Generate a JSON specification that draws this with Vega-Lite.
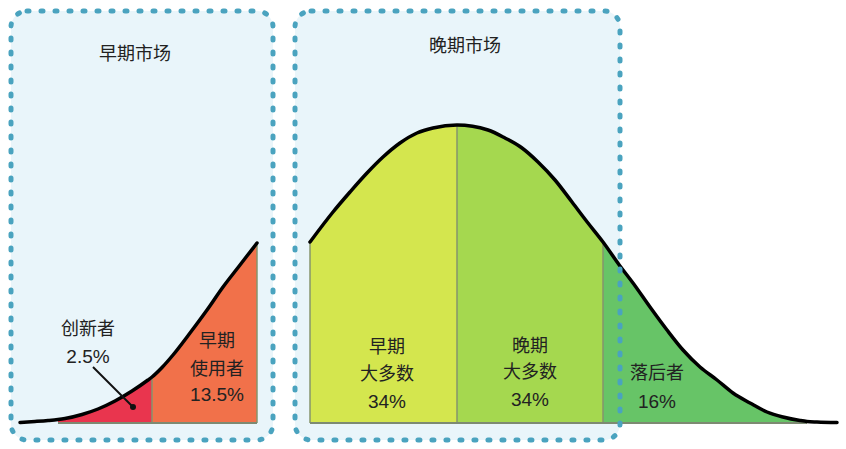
{
  "$schema": "https://vega.github.io/schema/vega-lite/v6.json",
  "autosize": {"type": "fit", "contains": "padding"},
  "width": 846,
  "height": 449,
  "padding": 0,
  "background": "white",
  "config": {"view": {"stroke": null}},
  "datasets": {
    "curve": [
      {"part": "left", "x": 20, "h": 0.5},
      {"part": "left", "x": 35, "h": 1.5},
      {"part": "left", "x": 48, "h": 2.5},
      {"part": "left", "x": 58, "h": 3.5},
      {"part": "left", "x": 65, "h": 4.5},
      {"part": "left", "x": 82, "h": 8.5},
      {"part": "left", "x": 98, "h": 14},
      {"part": "left", "x": 115, "h": 22},
      {"part": "left", "x": 132, "h": 32},
      {"part": "left", "x": 148, "h": 43},
      {"part": "left", "x": 152, "h": 46},
      {"part": "left", "x": 162, "h": 55.5},
      {"part": "left", "x": 173, "h": 68},
      {"part": "left", "x": 190, "h": 90},
      {"part": "left", "x": 207, "h": 113},
      {"part": "left", "x": 223, "h": 136},
      {"part": "left", "x": 240, "h": 158},
      {"part": "left", "x": 257, "h": 180},
      {"part": "right", "x": 310, "h": 181},
      {"part": "right", "x": 333, "h": 211},
      {"part": "right", "x": 350, "h": 231},
      {"part": "right", "x": 367, "h": 250},
      {"part": "right", "x": 383, "h": 266},
      {"part": "right", "x": 400, "h": 280},
      {"part": "right", "x": 417, "h": 290},
      {"part": "right", "x": 433, "h": 295},
      {"part": "right", "x": 457, "h": 298},
      {"part": "right", "x": 488, "h": 293},
      {"part": "right", "x": 505, "h": 285},
      {"part": "right", "x": 522, "h": 275},
      {"part": "right", "x": 538, "h": 261},
      {"part": "right", "x": 555, "h": 243},
      {"part": "right", "x": 572, "h": 221},
      {"part": "right", "x": 588, "h": 200},
      {"part": "right", "x": 603, "h": 181},
      {"part": "right", "x": 620, "h": 157},
      {"part": "right", "x": 633, "h": 140},
      {"part": "right", "x": 650, "h": 116},
      {"part": "right", "x": 667, "h": 93},
      {"part": "right", "x": 683, "h": 73},
      {"part": "right", "x": 700, "h": 56},
      {"part": "right", "x": 717, "h": 43},
      {"part": "right", "x": 733, "h": 30},
      {"part": "right", "x": 750, "h": 20},
      {"part": "right", "x": 767, "h": 11},
      {"part": "right", "x": 783, "h": 6},
      {"part": "right", "x": 800, "h": 2.5},
      {"part": "right", "x": 807, "h": 1.5},
      {"part": "right", "x": 817, "h": 1},
      {"part": "right", "x": 837, "h": 0.5}
    ],
    "boxes": [
      {"box": "早期市场", "x": 11, "x2": 273, "top": 412, "bottom": -17},
      {"box": "晚期市场", "x": 295, "x2": 620, "top": 412, "bottom": -17}
    ],
    "segments": [
      {"seg": "innovators", "from": 58, "to": 152, "zero": 0},
      {"seg": "early", "from": 152, "to": 257, "zero": 0},
      {"seg": "earlymaj", "from": 310, "to": 457, "zero": 0},
      {"seg": "latemaj", "from": 457, "to": 603, "zero": 0},
      {"seg": "laggards", "from": 603, "to": 807, "zero": 0}
    ],
    "labels": [
      {"x": 135, "h": 368, "text": "早期市场"},
      {"x": 465, "h": 376, "text": "晚期市场"},
      {"x": 88, "h": 93, "text": "创新者"},
      {"x": 88, "h": 66, "text": "2.5%"},
      {"x": 217, "h": 81, "text": "早期"},
      {"x": 217, "h": 53, "text": "使用者"},
      {"x": 217, "h": 28, "text": "13.5%"},
      {"x": 387, "h": 75, "text": "早期"},
      {"x": 387, "h": 48, "text": "大多数"},
      {"x": 387, "h": 21, "text": "34%"},
      {"x": 530, "h": 76, "text": "晚期"},
      {"x": 530, "h": 50, "text": "大多数"},
      {"x": 530, "h": 23, "text": "34%"},
      {"x": 657, "h": 49, "text": "落后者"},
      {"x": 657, "h": 21, "text": "16%"}
    ],
    "leader": [
      {"x": 93, "h": 56, "x2": 133, "h2": 16}
    ]
  },
  "layer": [
    {
      "data": {"name": "boxes"},
      "mark": {"type": "rect", "fill": "#e9f5fa", "cornerRadius": 16},
      "encoding": {
        "x": {"field": "x", "type": "quantitative", "scale": {"domain": [0, 846], "nice": false, "zero": false}, "axis": null},
        "x2": {"field": "x2"},
        "y": {"field": "top", "type": "quantitative", "scale": {"domain": [-26, 423], "nice": false, "zero": false}, "axis": null},
        "y2": {"field": "bottom"}
      }
    },
    {
      "data": {"name": "curve"},
      "transform": [{"filter": "datum.x >= 58 && datum.x <= 152"}],
      "mark": {"type": "area", "color": "#e9354e", "interpolate": "monotone"},
      "encoding": {"x": {"field": "x", "type": "quantitative"}, "y": {"field": "h", "type": "quantitative"}}
    },
    {
      "data": {"name": "curve"},
      "transform": [{"filter": "datum.x >= 152 && datum.x <= 257"}],
      "mark": {"type": "area", "color": "#f1714a", "interpolate": "monotone"},
      "encoding": {"x": {"field": "x", "type": "quantitative"}, "y": {"field": "h", "type": "quantitative"}}
    },
    {
      "data": {"name": "curve"},
      "transform": [{"filter": "datum.x >= 310 && datum.x <= 457"}],
      "mark": {"type": "area", "color": "#d4e64e", "interpolate": "monotone"},
      "encoding": {"x": {"field": "x", "type": "quantitative"}, "y": {"field": "h", "type": "quantitative"}}
    },
    {
      "data": {"name": "curve"},
      "transform": [{"filter": "datum.x >= 457 && datum.x <= 603"}],
      "mark": {"type": "area", "color": "#a5d84f", "interpolate": "monotone"},
      "encoding": {"x": {"field": "x", "type": "quantitative"}, "y": {"field": "h", "type": "quantitative"}}
    },
    {
      "data": {"name": "curve"},
      "transform": [{"filter": "datum.x >= 603 && datum.x <= 807"}],
      "mark": {"type": "area", "color": "#67c467", "interpolate": "monotone"},
      "encoding": {"x": {"field": "x", "type": "quantitative"}, "y": {"field": "h", "type": "quantitative"}}
    },
    {
      "data": {"name": "curve"},
      "transform": [{"filter": "datum.x == 152 || datum.x == 257 || datum.x == 310 || datum.x == 457 || datum.x == 603"}],
      "mark": {"type": "rule", "color": "#86946c", "strokeWidth": 1.5},
      "encoding": {"x": {"field": "x", "type": "quantitative"}, "y": {"field": "h", "type": "quantitative"}, "y2": {"datum": 0}}
    },
    {
      "data": {"name": "segments"},
      "mark": {"type": "rule", "color": "#7d8a72", "strokeWidth": 2},
      "encoding": {"x": {"field": "from", "type": "quantitative"}, "x2": {"field": "to"}, "y": {"field": "zero", "type": "quantitative"}}
    },
    {
      "data": {"name": "curve"},
      "mark": {"type": "line", "color": "#000000", "strokeWidth": 3.5, "strokeCap": "round", "interpolate": "monotone"},
      "encoding": {"x": {"field": "x", "type": "quantitative"}, "y": {"field": "h", "type": "quantitative"}, "detail": {"field": "part", "type": "nominal"}}
    },
    {
      "data": {"name": "boxes"},
      "mark": {"type": "rect", "filled": false, "stroke": "#4aa3bf", "strokeWidth": 5, "strokeDash": [2, 12], "strokeCap": "round", "cornerRadius": 16},
      "encoding": {"x": {"field": "x", "type": "quantitative"}, "x2": {"field": "x2"}, "y": {"field": "top", "type": "quantitative"}, "y2": {"field": "bottom"}}
    },
    {
      "data": {"name": "leader"},
      "mark": {"type": "rule", "color": "#111111", "strokeWidth": 2},
      "encoding": {"x": {"field": "x", "type": "quantitative"}, "y": {"field": "h", "type": "quantitative"}, "x2": {"field": "x2"}, "y2": {"field": "h2"}}
    },
    {
      "data": {"name": "leader"},
      "mark": {"type": "point", "filled": true, "color": "#111111", "size": 36, "opacity": 1},
      "encoding": {"x": {"field": "x2", "type": "quantitative"}, "y": {"field": "h2", "type": "quantitative"}}
    },
    {
      "data": {"name": "labels"},
      "transform": [{"filter": "indexof(datum.text, '%') < 0"}],
      "mark": {"type": "text", "font": "Noto Sans CJK SC", "fontSize": 18, "color": "#222222", "align": "center", "baseline": "middle"},
      "encoding": {"x": {"field": "x", "type": "quantitative"}, "y": {"field": "h", "type": "quantitative"}, "text": {"field": "text", "type": "nominal"}}
    },
    {
      "data": {"name": "labels"},
      "transform": [{"filter": "indexof(datum.text, '%') >= 0"}],
      "mark": {"type": "text", "font": "Liberation Sans", "fontSize": 19, "color": "#222222", "align": "center", "baseline": "middle"},
      "encoding": {"x": {"field": "x", "type": "quantitative"}, "y": {"field": "h", "type": "quantitative"}, "text": {"field": "text", "type": "nominal"}}
    }
  ]
}
